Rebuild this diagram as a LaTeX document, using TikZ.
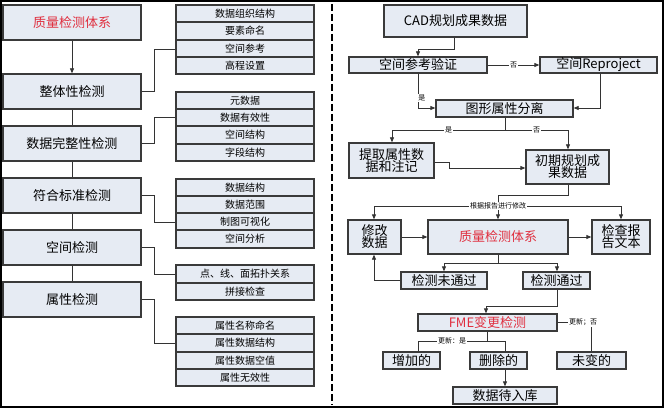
\documentclass[tikz,border=0pt]{standalone}
\usepackage{fontspec}
\setmainfont{Noto Sans CJK SC}
\usetikzlibrary{arrows.meta}
\definecolor{bfill}{HTML}{E6EBF3}
\definecolor{bdraw}{HTML}{3A3A3A}
\definecolor{qred}{HTML}{E03040}
\newcommand{\mkbox}[7]{\node[#1, minimum width={(#5-#3)*1pt}, minimum height={(#6-#4)*1pt}] (#2) at ({(#3+#5)/2},{(#4+#6)/2}) {#7};}
\begin{document}
\begin{tikzpicture}[x=1pt,y=-1pt,
  bigbox/.style={draw=bdraw,fill=bfill,line width=1.3pt,inner sep=0pt,font=\fontsize{13}{15}\selectfont,align=center},
  listbox/.style={draw=bdraw,fill=bfill,line width=1.1pt,inner sep=0pt,font=\fontsize{10}{11}\selectfont},
  conn/.style={draw=black!80,line width=0.8pt},
  arr/.style={conn,-{Triangle[length=5pt,width=4pt]}},
  lbl/.style={font=\fontsize{7}{8}\selectfont,fill=white,inner sep=1pt}]
\useasboundingbox (0,0) rectangle (664,409);
\draw[line width=1.5pt] (1,1) rectangle (663,407);
\draw[line width=2pt,dash pattern=on 7pt off 3pt] (332,4) -- (332,405);
% left column
\mkbox{bigbox,text=qred}{L1}{3}{5}{141}{40}{质量检测体系}
\mkbox{bigbox}{L2}{3}{74}{141}{109}{整体性检测}
\mkbox{bigbox}{L3}{3}{126}{141}{161}{数据完整性检测}
\mkbox{bigbox}{L4}{3}{178}{141}{213}{符合标准检测}
\mkbox{bigbox}{L5}{3}{230}{141}{265}{空间检测}
\mkbox{bigbox}{L6}{3}{282}{141}{317}{属性检测}
\draw[arr] (L1) -- (L2);
\draw[conn] (L2) -- (L3) (L3) -- (L4) (L4) -- (L5) (L5) -- (L6);
% lists
\mkbox{listbox}{A1}{176}{5}{314}{22}{数据组织结构}
\mkbox{listbox}{A2}{176}{22}{314}{40}{要素命名}
\mkbox{listbox}{A3}{176}{40}{314}{57}{空间参考}
\mkbox{listbox}{A4}{176}{57}{314}{74}{高程设置}
\mkbox{listbox}{B1}{176}{92}{314}{109}{元数据}
\mkbox{listbox}{B2}{176}{109}{314}{126}{数据有效性}
\mkbox{listbox}{B3}{176}{126}{314}{144}{空间结构}
\mkbox{listbox}{B4}{176}{144}{314}{161}{字段结构}
\mkbox{listbox}{C1}{176}{179}{314}{196}{数据结构}
\mkbox{listbox}{C2}{176}{196}{314}{213}{数据范围}
\mkbox{listbox}{C3}{176}{213}{314}{230}{制图可视化}
\mkbox{listbox}{C4}{176}{230}{314}{248}{空间分析}
\mkbox{listbox}{D1}{176}{265}{314}{283}{点、线、面拓扑关系}
\mkbox{listbox}{D2}{176}{283}{314}{300}{拼接检查}
\mkbox{listbox}{E1}{176}{317}{314}{334}{属性名称命名}
\mkbox{listbox}{E2}{176}{334}{314}{352}{属性数据结构}
\mkbox{listbox}{E3}{176}{352}{314}{369}{属性数据空值}
\mkbox{listbox}{E4}{176}{369}{314}{386}{属性无效性}
\draw[conn] (L2.east) -- (154,91.5) -- (154,49) -- (A3.west|-0,49);
\draw[conn] (L3.east) -- (154,143.5) -- (154,117) -- (B2.west|-0,117);
\draw[conn] (L4.east) -- (154,195.5) -- (154,222) -- (C3.west|-0,222);
\draw[conn] (L5.east) -- (154,247.5) -- (154,274) -- (D1.west|-0,274);
\draw[conn] (L6.east) -- (154,299.5) -- (154,343) -- (E2.west|-0,343);
% right flow
\mkbox{bigbox}{R1}{384}{5}{527}{37}{CAD规划成果数据}
\mkbox{bigbox}{R2}{349}{57}{487}{73}{空间参考验证}
\mkbox{bigbox}{R3}{540}{57}{657}{73}{空间Reproject}
\mkbox{bigbox}{R4}{436}{100}{573}{117}{图形属性分离}
\mkbox{bigbox}{R5}{349}{143}{434}{178}{提取属性数\\[-3pt]据和注记}
\mkbox{bigbox}{R6}{526}{150}{609}{184}{初期规划成\\[-3pt]果数据}
\mkbox{bigbox}{R7}{348}{220}{401}{254}{修改\\[-3pt]数据}
\mkbox{bigbox,text=qred}{R8}{428}{220}{568}{254}{质量检测体系}
\mkbox{bigbox}{R9}{592}{220}{650}{254}{检查报\\[-3pt]告文本}
\mkbox{bigbox}{R10}{401}{272}{487}{289}{检测未通过}
\mkbox{bigbox}{R11}{523}{272}{590}{289}{检测通过}
\mkbox{bigbox,text=qred}{R12}{418}{314}{557}{331}{FME变更检测}
\mkbox{bigbox}{R13}{383}{352}{440}{369}{增加的}
\mkbox{bigbox}{R14}{470}{352}{527}{369}{删除的}
\mkbox{bigbox}{R15}{557}{352}{626}{369}{未变的}
\mkbox{bigbox}{R16}{453}{387}{557}{404}{数据待入库}
\draw[arr] (R1.south-|454,0) -- (454,49) -- (418,49) -- (R2.north-|418,0);
\draw[arr] (R2) -- node[lbl]{否} (R3);
\draw[arr] (R2.south-|418,0) -- (418,108) node[lbl,pos=0.7,right=-1pt]{是} -- (R4.west|-0,108);
\draw[arr] (R3.south-|600,0) -- (600,108) -- (R4.east|-0,108);
\draw[conn] (R4.south-|505,0) -- (505,130);
\draw[arr] (505,130) -- node[lbl]{是} (392,130) -- (R5.north-|392,0);
\draw[arr] (505,130) -- node[lbl]{否} (568,130) -- (R6.north-|568,0);
\draw[arr] (R5.east|-0,162) -- (449,162) -- (449,168) -- (R6.west|-0,168);
\draw[conn] (R6.south-|568,0) -- (568,195) -- (498,195) -- (498,206);
\draw[arr] (498,206) -- (374,206) -- (R7.north-|374,0);
\draw[arr] (498,206) -- (R8.north-|498,0);
\draw[arr] (498,206) -- (621,206) -- (R9.north-|621,0);
\node[lbl] (lb1) at (498,206) {根据报告进行修改};
\draw[arr] (R7) -- (R8);
\draw[arr] (R8) -- (R9);
\draw[conn] (R8.south-|498,0) -- (498,263);
\draw[arr] (498,263) -- (444,263) -- (R10.north-|444,0);
\draw[arr] (498,263) -- (557,263) -- (R11.north-|557,0);
\draw[arr] (R10.west) -- (374,280.5) -- (R7.south-|374,0);
\draw[arr] (R11.south-|557,0) -- (557,306) -- (486,306) -- (R12.north-|486,0);
\node[lbl,anchor=west] (lb2) at (568,322) {更新；否};
\draw[conn] (R12.east|-0,322) -- (lb2.west);
\draw[conn] (591,327) -- (R15.north-|591,0);
\draw[conn] (R12.south-|487,0) -- (487,341);
\draw[conn] (487,341) -- (418,341) -- (R13.north-|418,0);
\draw[conn] (487,341) -- (505,341) -- (R14.north-|505,0);
\node[lbl] (lb3) at (452,341) {更新：是};
\draw[arr] (R14.south-|505,0) -- (R16.north-|505,0);
\end{tikzpicture}
\end{document}
